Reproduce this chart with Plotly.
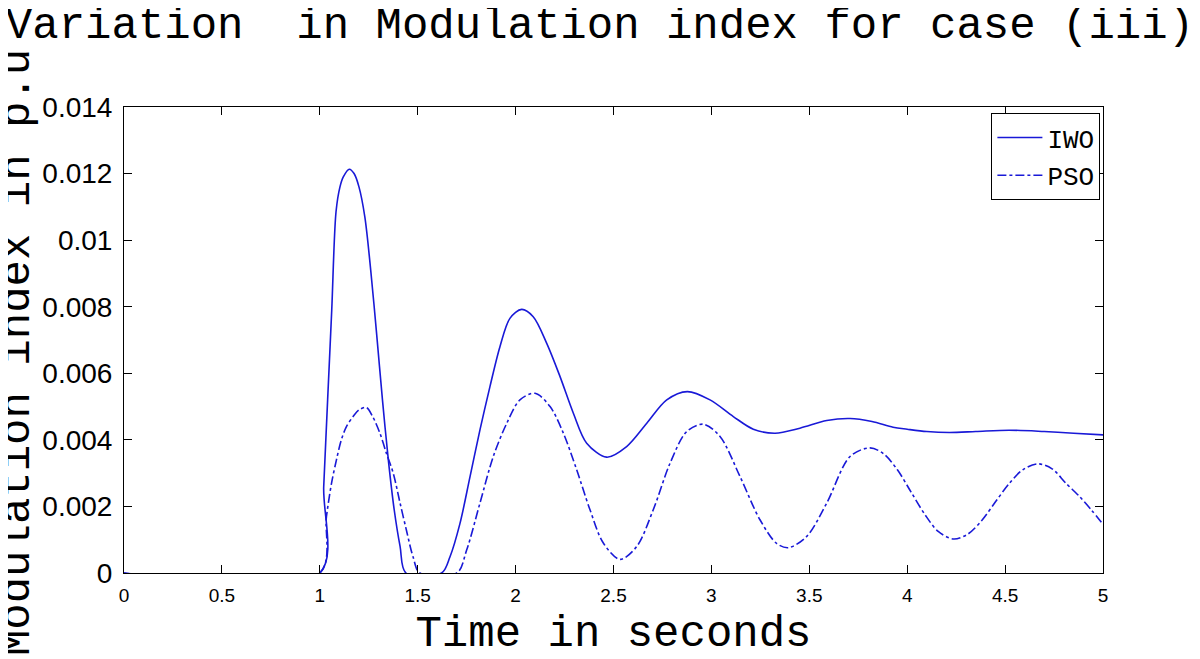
import plotly.graph_objects as go

# ---- data ----
iwo_t = [0, 1.0, 1.02, 1.04, 1.061, 1.083, 1.103, 1.12, 1.151, 1.175, 1.2, 1.23, 1.26, 1.29,
         1.32, 1.35, 1.38, 1.41, 1.44, 1.622, 1.665, 1.716, 1.767, 1.818, 1.869, 1.92, 1.971,
         2.031, 2.09, 2.159, 2.227, 2.295, 2.363, 2.465, 2.567, 2.67, 2.772, 2.877, 2.993,
         3.112, 3.214, 3.325, 3.452, 3.589, 3.708, 3.82, 3.928, 4.0, 4.1, 4.215, 4.35, 4.52,
         4.7, 4.85, 5.0]
iwo_v = [0, 0, 0.0026, 0.0052, 0.0079, 0.01086, 0.0116, 0.0119, 0.01213, 0.0120, 0.0116,
         0.0107, 0.0091, 0.0072, 0.0052, 0.0034, 0.0019, 0.0008, 0, 0, 0.00049, 0.00149,
         0.00289, 0.0043, 0.0056, 0.0068, 0.00765, 0.00792, 0.0077, 0.0069, 0.0059, 0.0048,
         0.0039, 0.00348, 0.0038, 0.0045, 0.0052, 0.00545, 0.0052, 0.0047, 0.00432, 0.0042,
         0.00435, 0.00458, 0.00464, 0.00455, 0.00438, 0.00432, 0.00425, 0.00422, 0.00425,
         0.00429, 0.00425, 0.0042, 0.00415]

pso_t = [0, 1.0, 1.034, 1.06, 1.085, 1.11, 1.136, 1.17, 1.2, 1.238, 1.27, 1.307, 1.34, 1.375,
         1.41, 1.443, 1.477, 1.511, 1.70, 1.75, 1.818, 1.886, 1.955, 2.022, 2.099, 2.176,
         2.244, 2.312, 2.38, 2.448, 2.533, 2.618, 2.703, 2.789, 2.874, 2.959, 3.044, 3.146,
         3.248, 3.333, 3.393, 3.487, 3.589, 3.708, 3.81, 3.88, 3.95, 4.02, 4.09, 4.16, 4.238,
         4.31, 4.38, 4.45, 4.52, 4.59, 4.667, 4.74, 4.81, 4.88, 4.94, 5.0]
pso_v = [0, 0, 0.0017, 0.0027, 0.0034, 0.0040, 0.0044, 0.0047, 0.0049, 0.00497, 0.0047,
         0.0042, 0.0036, 0.0030, 0.0021, 0.00127, 0.00047, 0, 0, 0.00069, 0.0021, 0.0035,
         0.0045, 0.0052, 0.0054, 0.0050, 0.0042, 0.0031, 0.0019, 0.0009, 0.00041, 0.00079,
         0.0019, 0.0033, 0.00425, 0.00447, 0.0041, 0.0029, 0.0016, 0.00089, 0.00076, 0.0011,
         0.0021, 0.0035, 0.00376, 0.00358, 0.0031, 0.00243, 0.00176, 0.00124, 0.00102,
         0.00117, 0.00157, 0.00213, 0.00268, 0.0031, 0.00328, 0.00313, 0.0027, 0.0023,
         0.0019, 0.00146]

x_ticks = [0, 0.5, 1, 1.5, 2, 2.5, 3, 3.5, 4, 4.5, 5]
x_labels = ["0", "0.5", "1", "1.5", "2", "2.5", "3", "3.5", "4", "4.5", "5"]
y_ticks = [0, 0.002, 0.004, 0.006, 0.008, 0.01, 0.012, 0.014]
y_labels = ["0", "0.002", "0.004", "0.006", "0.008", "0.01", "0.012", "0.014"]

BLUE = "rgb(25,25,215)"
MONO = "Liberation Mono, Courier New, monospace"
SANS = "Liberation Sans, Arial, sans-serif"

fig = go.Figure()
fig.add_trace(go.Scatter(x=iwo_t, y=iwo_v, mode="lines", name="IWO", legendgroup="a",
                         line=dict(color=BLUE, width=1.6, shape="spline", smoothing=0.9)))
fig.add_trace(go.Scatter(x=pso_t, y=pso_v, mode="lines", name="PSO", legendgroup="b",
                         line=dict(color=BLUE, width=1.6, dash="dashdot", shape="spline",
                                   smoothing=0.9)))

fig.update_layout(
    width=1200, height=659,
    margin=dict(l=116, r=105, t=99, b=94),
    paper_bgcolor="white", plot_bgcolor="white",
    showlegend=True,
    title=dict(text="Variation\u00a0 in Modulation index for case (iii)",
               x=0.4933, xref="container", xanchor="center",
               y=0.978, yref="container", yanchor="middle",
               font=dict(family=MONO, size=44, color="black")),
    legend=dict(x=0.886, y=0.987, xanchor="left", yanchor="top",
                bgcolor="white", bordercolor="black", borderwidth=1,
                font=dict(family=MONO, size=26, color="black"),
                itemwidth=45,
                tracegroupgap=1, traceorder="grouped"),
    xaxis=dict(range=[0, 5], tickvals=x_ticks, ticktext=x_labels,
               ticks="inside", ticklen=8, tickcolor="black", tickwidth=1,
               showline=True, linecolor="black", linewidth=1, mirror="ticks",
               showgrid=False, zeroline=False, ticklabelstandoff=5,
               tickfont=dict(family=SANS, size=19, color="black"),
               title=dict(text="Time in seconds", font=dict(family=MONO, size=44, color="black"),
                          standoff=10)),
    yaxis=dict(range=[0, 0.014], tickvals=y_ticks, ticktext=y_labels,
               ticks="inside", ticklen=8, tickcolor="black", tickwidth=1,
               showline=True, linecolor="black", linewidth=1, mirror="ticks",
               showgrid=False, zeroline=False, ticklabelstandoff=5,
               tickfont=dict(family=SANS, size=28, color="black")),
    annotations=[dict(text="Modulation index in p.u", textangle=-90,
                      xref="paper", yref="paper", x=-0.1093, y=0.474,
                      xanchor="center", yanchor="middle", showarrow=False,
                      font=dict(family=MONO, size=44, color="black"))],
)

fig.write_html("out.html")
